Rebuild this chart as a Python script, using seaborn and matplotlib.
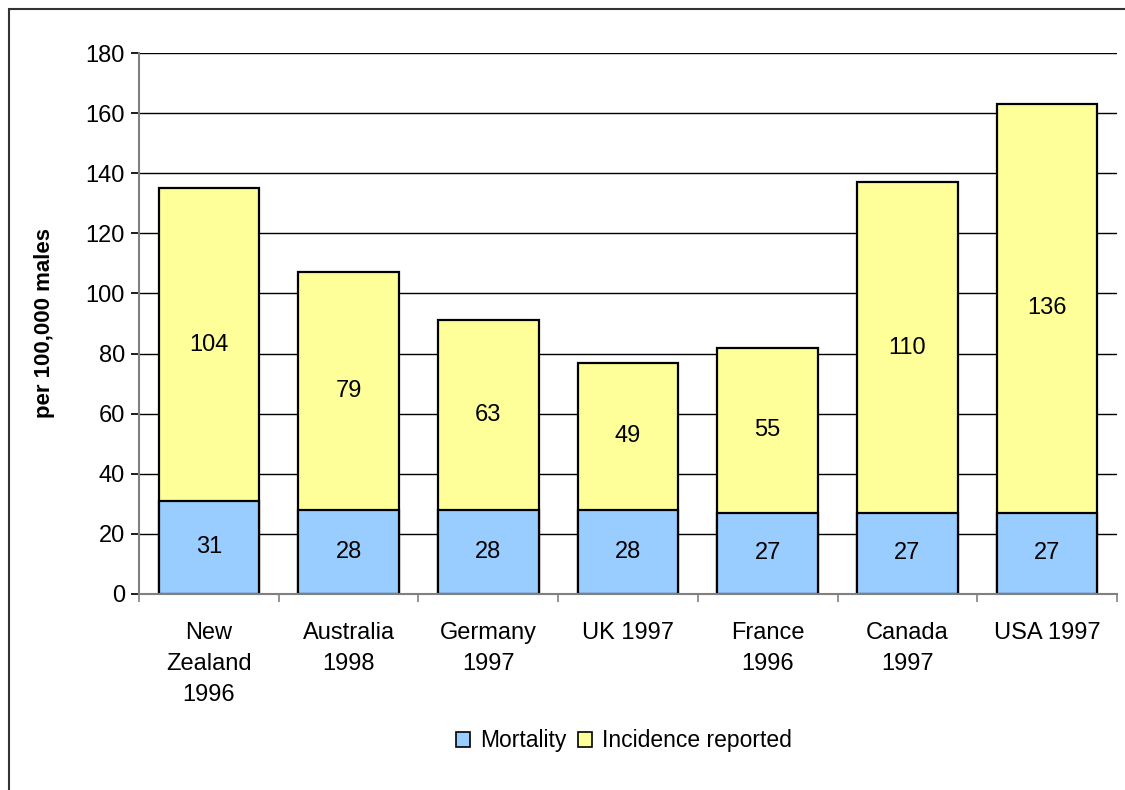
import matplotlib

matplotlib.use("Agg")
import matplotlib.pyplot as plt
import numpy as np
import pandas as pd
import seaborn as sns
from matplotlib.patches import Patch, Rectangle

sns.set_theme(style="white")
plt.rcParams["font.family"] = ["Liberation Sans", "DejaVu Sans"]
plt.rcParams.update({"text.color": "black", "axes.labelcolor": "black",
                     "xtick.labelcolor": "black", "ytick.labelcolor": "black"})

countries = [
    "New\nZealand\n1996",
    "Australia\n1998",
    "Germany\n1997",
    "UK 1997",
    "France\n1996",
    "Canada\n1997",
    "USA 1997",
]
mortality = [31, 28, 28, 28, 27, 27, 27]
incidence = [104, 79, 63, 49, 55, 110, 136]
y_ticks = [0, 20, 40, 60, 80, 100, 120, 140, 160, 180]

BLUE = "#99CCFF"
YELLOW = "#FFFF99"
GRAY = "#808080"
FS = 17

df = pd.DataFrame({"country": countries, "mortality": mortality, "incidence": incidence})
df["total"] = df["mortality"] + df["incidence"]

fig = plt.figure(figsize=(11.25, 7.9), dpi=100)
ax = fig.add_axes([139 / 1125, 1 - 594 / 790, (1117 - 139) / 1125, (594 - 53) / 790])

# gridlines behind bars
for t in y_ticks[1:]:
    ax.axhline(t, color="black", linewidth=1, zorder=0)

bar_kw = dict(edgecolor="black", linewidth=1.6, width=0.72, saturation=1, zorder=2)
sns.barplot(data=df, x="country", y="total", color=YELLOW, ax=ax, **bar_kw)
sns.barplot(data=df, x="country", y="mortality", color=BLUE, ax=ax, **bar_kw)

for i, row in df.iterrows():
    ax.text(i, row["mortality"] / 2, f"{row['mortality']}", ha="center", va="center",
            fontsize=FS, zorder=3)
    ax.text(i, row["mortality"] + row["incidence"] / 2, f"{row['incidence']}",
            ha="center", va="center", fontsize=FS, zorder=3)

ax.set_ylim(0, 180)
ax.set_xlim(-0.5, len(countries) - 0.5)
ax.set_yticks(y_ticks)
ax.set_xticks(np.arange(-0.5, len(countries)), minor=True)
ax.tick_params(axis="y", which="major", length=6, color="black", labelsize=FS, pad=4,
               direction="out", left=True)
ax.tick_params(axis="x", which="major", length=0, labelsize=FS, pad=20)
ax.tick_params(axis="x", which="minor", length=6, color=GRAY, width=1.2, direction="out",
               bottom=True)
for lbl in ax.get_xticklabels():
    lbl.set_linespacing(1.55)

ax.set_xlabel("")
ax.set_ylabel("per 100,000 males", fontsize=16, fontweight="bold", labelpad=22)

for side in ["top", "right"]:
    ax.spines[side].set_visible(False)
for side in ["left", "bottom"]:
    ax.spines[side].set_color(GRAY)
    ax.spines[side].set_linewidth(1.5)

handles = [
    Patch(facecolor=BLUE, edgecolor="black", linewidth=1.2, label="Mortality"),
    Patch(facecolor=YELLOW, edgecolor="black", linewidth=1.2, label="Incidence reported"),
]
fig.legend(handles=handles, loc="center", bbox_to_anchor=(0.555, 1 - 741 / 790), ncol=2,
           frameon=False, fontsize=16.5, handlelength=0.6, handleheight=0.6,
           handletextpad=0.45, columnspacing=0.5)

fig.patches.append(Rectangle((9 / 1125, -0.1), 1.1, 0.1 + 1 - 9 / 790, transform=fig.transFigure,
                             fill=False, edgecolor="#333333", linewidth=1.5))

fig.savefig("out.png", dpi=100, facecolor="white")
